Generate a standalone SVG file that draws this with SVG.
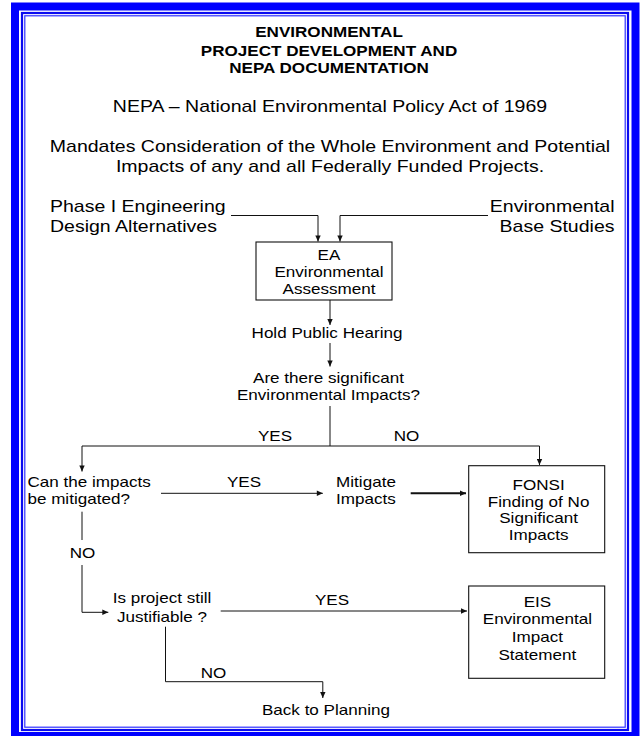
<svg xmlns="http://www.w3.org/2000/svg" width="640" height="736" viewBox="0 0 640 736">
<style>
.t{font-family:"Liberation Sans",Arial,Helvetica,sans-serif;fill:#000}
.b{font-weight:bold}
.s14{font-size:14px}
.s16{font-size:16px}
.box{fill:#fff;stroke:#111;stroke-width:1.1}
.ln{fill:none;stroke:#111;stroke-width:1}
.thick{stroke-width:2}
.ar{marker-end:url(#ah)}
</style>
<defs>
<marker id="ah" viewBox="0 0 10 10" refX="10" refY="5" markerWidth="7" markerHeight="6" markerUnits="userSpaceOnUse" orient="auto">
<path d="M0,0.5 L10,5 L0,9.5 z" fill="#111"/>
</marker>
</defs>
<rect width="640" height="736" fill="#fff"/>
<g id="frame" fill="none">
<rect x="15" y="6.5" width="620.5" height="729.5" stroke="#0000ff" stroke-width="8"/>
<rect x="22" y="13" width="606" height="717" stroke="#0a0af0" stroke-width="2.2"/>
<rect x="24.8" y="15.8" width="600.4" height="711.4" stroke="#3030ff" stroke-width="1.2"/>
</g>
<g id="title" transform="translate(329 0) scale(1.22 1)">
<text class="t b s14" text-anchor="middle"><tspan x="0" y="36.7">ENVIRONMENTAL</tspan><tspan x="0" y="56">PROJECT DEVELOPMENT AND</tspan><tspan x="0" y="73.3">NEPA DOCUMENTATION</tspan></text>
</g>
<g id="nepa" transform="translate(330 0) scale(1.22 1)">
<text class="t s16" text-anchor="middle" x="0" y="112">NEPA – National Environmental Policy Act of 1969</text>
</g>
<g id="mandates" transform="translate(330 0) scale(1.22 1)">
<text class="t s16" text-anchor="middle"><tspan x="0" y="151.7">Mandates Consideration of the Whole Environment and Potential</tspan><tspan x="0" y="171.7">Impacts of any and all Federally Funded Projects.</tspan></text>
</g>
<g id="connectors">
<path class="ln ar" d="M231,215.5 H318 V241.5"/>
<path class="ln ar" d="M488,215.5 H340 V241.5"/>
<path class="ln ar" d="M330,300 V325"/>
<path class="ln ar" d="M330,343 V366.5"/>
<path class="ln" d="M330,406 V446 M82,446 H539.5"/>
<path class="ln ar" d="M82,446 V471.5"/>
<path class="ln ar" d="M539.5,446 V465"/>
<path class="ln ar" d="M161,493.3 H322.8"/>
<path class="ln thick ar" d="M410.7,493.3 H466"/>
<path class="ln" d="M82,511.7 V540"/>
<path class="ln ar" d="M82,565 V612.3 H108.3"/>
<path class="ln ar" d="M220.7,611 H467"/>
<path class="ln ar" d="M165.5,626.7 V681.7 H322.8 V698"/>
</g>
<g id="phase1" transform="translate(50 0) scale(1.22 1)">
<text class="t s16"><tspan x="0" y="211.7">Phase I Engineering</tspan><tspan x="0" y="231.7">Design Alternatives</tspan></text>
</g>
<g id="basestudies" transform="translate(614.5 0) scale(1.22 1)">
<text class="t s16" text-anchor="end"><tspan x="0" y="211.7">Environmental</tspan><tspan x="0" y="231.7">Base Studies</tspan></text>
</g>
<g id="ea">
<rect class="box" x="256" y="242" width="136" height="58"/>
<g transform="translate(329 0) scale(1.22 1)">
<text class="t s14" text-anchor="middle"><tspan x="0" y="260">EA</tspan><tspan x="0" y="277.3">Environmental</tspan><tspan x="0" y="294.3">Assessment</tspan></text>
</g>
</g>
<g id="hearing" transform="translate(327 0) scale(1.22 1)">
<text class="t s14" text-anchor="middle" x="0" y="338.3">Hold Public Hearing</text>
</g>
<g id="significant" transform="translate(328.5 0) scale(1.22 1)">
<text class="t s14" text-anchor="middle"><tspan x="0" y="383.3">Are there significant</tspan><tspan x="0" y="400">Environmental Impacts?</tspan></text>
</g>
<g id="labels" class="t s14" text-anchor="middle">
<text transform="translate(275 0) scale(1.22 1)" x="0" y="440.7">YES</text>
<text transform="translate(406.5 0) scale(1.22 1)" x="0" y="440.7">NO</text>
<text transform="translate(244 0) scale(1.22 1)" x="0" y="487.3">YES</text>
<text transform="translate(82.5 0) scale(1.22 1)" x="0" y="558.3">NO</text>
<text transform="translate(332 0) scale(1.22 1)" x="0" y="605">YES</text>
<text transform="translate(213.5 0) scale(1.22 1)" x="0" y="678.3">NO</text>
</g>
<g id="mitigated" transform="translate(27.4 0) scale(1.22 1)">
<text class="t s14"><tspan x="0" y="487.3">Can the impacts</tspan><tspan x="0" y="504.3">be mitigated?</tspan></text>
</g>
<g id="mitigate" transform="translate(366 0) scale(1.22 1)">
<text class="t s14" text-anchor="middle"><tspan x="0" y="487.3">Mitigate</tspan><tspan x="0" y="504.3">Impacts</tspan></text>
</g>
<g id="fonsi">
<rect class="box" x="468.7" y="465.7" width="136" height="87"/>
<g transform="translate(538.6 0) scale(1.22 1)">
<text class="t s14" text-anchor="middle"><tspan x="0" y="490">FONSI</tspan><tspan x="0" y="506.7">Finding of No</tspan><tspan x="0" y="523.3">Significant</tspan><tspan x="0" y="540">Impacts</tspan></text>
</g>
</g>
<g id="justifiable" transform="translate(162 0) scale(1.22 1)">
<text class="t s14" text-anchor="middle"><tspan x="0" y="603.3">Is project still</tspan><tspan x="0" y="621.7">Justifiable ?</tspan></text>
</g>
<g id="eis">
<rect class="box" x="468.7" y="586" width="136" height="92.3"/>
<g transform="translate(537.4 0) scale(1.22 1)">
<text class="t s14" text-anchor="middle"><tspan x="0" y="606.7">EIS</tspan><tspan x="0" y="624">Environmental</tspan><tspan x="0" y="641.7">Impact</tspan><tspan x="0" y="660">Statement</tspan></text>
</g>
</g>
<g id="planning" transform="translate(326 0) scale(1.22 1)">
<text class="t s14" text-anchor="middle" x="0" y="715">Back to Planning</text>
</g>
</svg>
